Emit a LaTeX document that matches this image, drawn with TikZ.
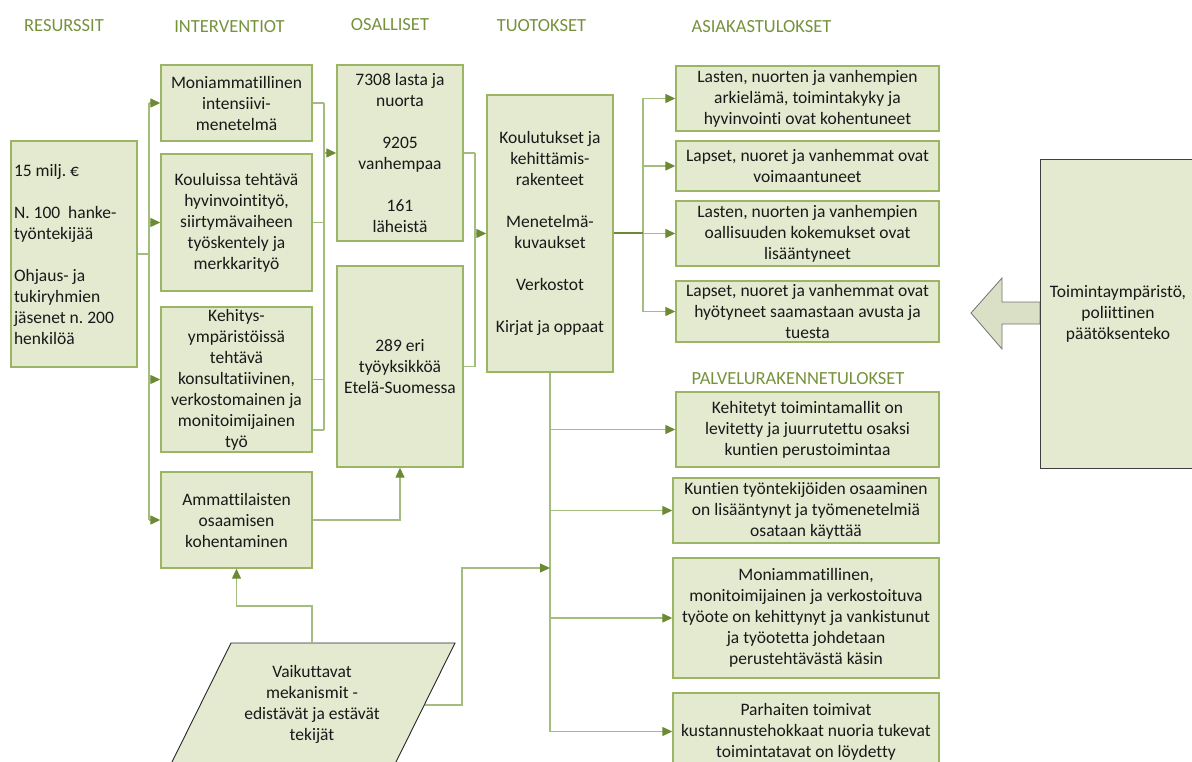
\documentclass[tikz,border=0pt]{standalone}
\usepackage{fontspec}
\setmainfont{Carlito}[Ligatures=NoCommon]
\frenchspacing
\usetikzlibrary{arrows.meta,calc}
\definecolor{boxfill}{HTML}{E3EAD0}
\definecolor{boxline}{HTML}{9BB565}
\definecolor{connc}{HTML}{A3BC80}
\definecolor{tipc}{HTML}{6C8A34}
\definecolor{headc}{HTML}{76923C}
\definecolor{arrfill}{HTML}{D9E0C6}
\begin{document}
\begin{tikzpicture}[x=1pt,y=-1pt,
  every node/.style={font=\fontsize{17.5}{21}\selectfont\frenchspacing, text=black!90},
  box/.style={draw=boxline, line width=1.4pt, fill=boxfill, align=center, inner sep=2pt},
  head/.style={font=\fontsize{18.5}{21}\selectfont, text=headc, inner sep=0pt},
  conn/.style={draw=connc, line width=1.3pt},
  arr/.style={conn, -{Triangle[length=10pt,width=9pt,color=tipc]}}
]
\useasboundingbox (0,0) rectangle (1192,762);

% headings
\node[head] (hres) at (64,26) {RESURSSIT};
\node[head] (hint) at (229.5,27) {INTERVENTIOT};
\node[head] (hosa) at (390,25) {OSALLISET};
\node[head] (htuo) at (541.5,26) {TUOTOKSET};
\node[head] (hasi) at (761.5,27) {ASIAKASTULOKSET};
\node[head] (hpal) at (798,379) {PALVELURAKENNETULOKSET};

% resources
\node[box, minimum width=126pt, minimum height=226pt, text width=120pt, align=flush left] (res) at (74,254)
 {15 milj. €\\[21pt]N. 100\ \ hanke-\\työntekijää\\[21pt]Ohjaus- ja\\tukiryhmien\\jäsenet n. 200\\henkilöä};

% interventions
\node[box, minimum width=151pt, minimum height=76pt] (int1) at (236.5,103)
 {Moniammatillinen\\intensiivi-\\menetelmä};
\node[box, minimum width=151pt, minimum height=137pt] (int2) at (236.5,222.5)
 {Kouluissa tehtävä\\hyvinvointityö,\\siirtymävaiheen\\työskentely ja\\merkkarityö};
\node[box, minimum width=151pt, minimum height=145pt] (int3) at (236.5,379.5)
 {Kehitys-\\ympäristöissä\\tehtävä\\konsultatiivinen,\\verkostomainen ja\\monitoimijainen\\työ};
\node[box, minimum width=151pt, minimum height=96pt] (int4) at (236.5,520)
 {Ammattilaisten\\osaamisen\\kohentaminen};

% participants
\node[box, minimum width=126pt, minimum height=176pt] (os1) at (400,153)
 {7308 lasta ja\\nuorta\\[21pt]9205\\vanhempaa\\[21pt]161\\läheistä};
\node[box, minimum width=126pt, minimum height=201pt] (os2) at (400,366.5)
 {289 eri\\työyksikköä\\Etelä-Suomessa};

% outputs
\node[box, minimum width=126pt, minimum height=277pt] (tuo) at (550,233.5)
 {Koulutukset ja\\kehittämis-\\rakenteet\\[21pt]Menetelmä-\\kuvaukset\\[21pt]Verkostot\\[21pt]Kirjat ja oppaat};

% client outcomes
\node[box, minimum width=263pt, minimum height=65pt] (a1) at (807.5,98.5)
 {Lasten, nuorten ja vanhempien\\arkielämä, toimintakyky ja\\hyvinvointi ovat kohentuneet};
\node[box, minimum width=263pt, minimum height=50pt] (a2) at (807.5,166)
 {Lapset, nuoret ja vanhemmat ovat\\voimaantuneet};
\node[box, minimum width=263pt, minimum height=65pt] (a3) at (807.5,233.5)
 {Lasten, nuorten ja vanhempien\\oallisuuden kokemukset ovat\\lisääntyneet};
\node[box, minimum width=263pt, minimum height=61pt] (a4) at (807.5,311.5)
 {Lapset, nuoret ja vanhemmat ovat\\hyötyneet saamastaan avusta ja\\tuesta};

% service structure outcomes
\node[box, minimum width=263pt, minimum height=75pt] (p1) at (807.5,429.5)
 {Kehitetyt toimintamallit on\\levitetty ja juurrutettu osaksi\\kuntien perustoimintaa};
\node[box, minimum width=266pt, minimum height=65pt] (p2) at (806,510.5)
 {Kuntien työntekijöiden osaaminen\\on lisääntynyt ja työmenetelmiä\\osataan käyttää};
\node[box, minimum width=266pt, minimum height=120pt] (p3) at (806,618)
 {Moniammatillinen,\\monitoimijainen ja verkostoituva\\työote on kehittynyt ja vankistunut\\ja työotetta johdetaan\\perustehtävästä käsin};
\node[box, minimum width=266pt, minimum height=77pt] (p4) at (806,731.5)
 {Parhaiten toimivat\\kustannustehokkaat nuoria tukevat\\toimintatavat on löydetty};

% environment arrow and box
\coordinate (envtip) at (971,313);
\draw[draw=black!55, line width=0.8pt, fill=arrfill]
  (envtip) -- (1002,278) -- (1002,302) -- (1040,302) -- (1040,324) -- (1002,324) -- (1002,349) -- cycle;
\node[draw=black!75, line width=0.8pt, fill=boxfill, minimum width=156pt, minimum height=309pt, align=center] (env) at (1118,313.5)
 {Toimintaympäristö,\\poliittinen\\päätöksenteko};

% mechanisms parallelogram
\coordinate (pa) at (231,643);
\coordinate (pb) at (455,643);
\coordinate (pc) at (394.5,765);
\coordinate (pd) at (170.5,765);
\draw[draw=black!85, line width=0.9pt, fill=boxfill] (pa) -- (pb) -- (pc) -- (pd) -- cycle;
\node[align=center] (mech) at (312,704)
 {Vaikuttavat\\mekanismit -\\edistävät ja estävät\\tekijät};
\coordinate (mtop) at (312,643);
\coordinate (mright) at (424.5,705);

% connectors: resources -> interventions
\coordinate (b1) at (149,254);
\draw[conn] (res.east) -- (b1);
\draw[conn] (b1 |- int1.west) -- (b1 |- int4.west);
\foreach \n in {int1,int2,int3,int4} \draw[arr] (b1 |- \n.west) -- (\n.west);

% interventions -> participants
\coordinate (b2) at (324,154);
\coordinate (int3b) at ($(int3.east)+(0,50.5)$);
\draw[conn] (int1.east) -- (b2 |- int1.east);
\draw[conn] (int2.east) -- (b2 |- int2.east);
\draw[conn] (int3.east) -- (b2 |- int3.east);
\draw[conn] (int3b) -- (b2 |- int3b);
\draw[conn] (b2 |- int1.east) -- (b2 |- int3b);
\draw[arr] (b2 |- os1.west) -- (os1.west);

% participants -> outputs
\coordinate (b3) at (475,233.5);
\draw[conn] (os1.east) -- (b3 |- os1.east);
\draw[conn] (os2.east) -- (b3 |- os2.east);
\draw[conn] (b3 |- os1.east) -- (b3 |- os2.east);
\draw[arr] (b3 |- tuo.west) -- (tuo.west);

% outputs -> client outcomes
\coordinate (b4) at (643,233.5);
\draw[conn] (b4 |- a1.west) -- (b4 |- a4.west);
\foreach \n in {a1,a2,a3,a4} \draw[arr] (b4 |- \n.west) -- (\n.west);
\draw[draw=tipc, line width=2pt] (tuo.east) -- (b4);

% outputs -> service structure outcomes
\coordinate (b5) at (550,731.5);
\draw[conn] (tuo.south) -- (b5);
\foreach \n in {p1,p2,p3,p4} \draw[arr] (tuo.south |- \n.west) -- (\n.west);

% competence -> participants
\draw[arr] (int4.east) -| (os2.south);

% mechanisms -> competence / outputs
\draw[arr] (mtop) -- (312,606) -| (int4.south);
\draw[arr] (mright) -- (462,705) -- (462,568) -- (tuo.south |- 0,568);
\end{tikzpicture}
\end{document}
